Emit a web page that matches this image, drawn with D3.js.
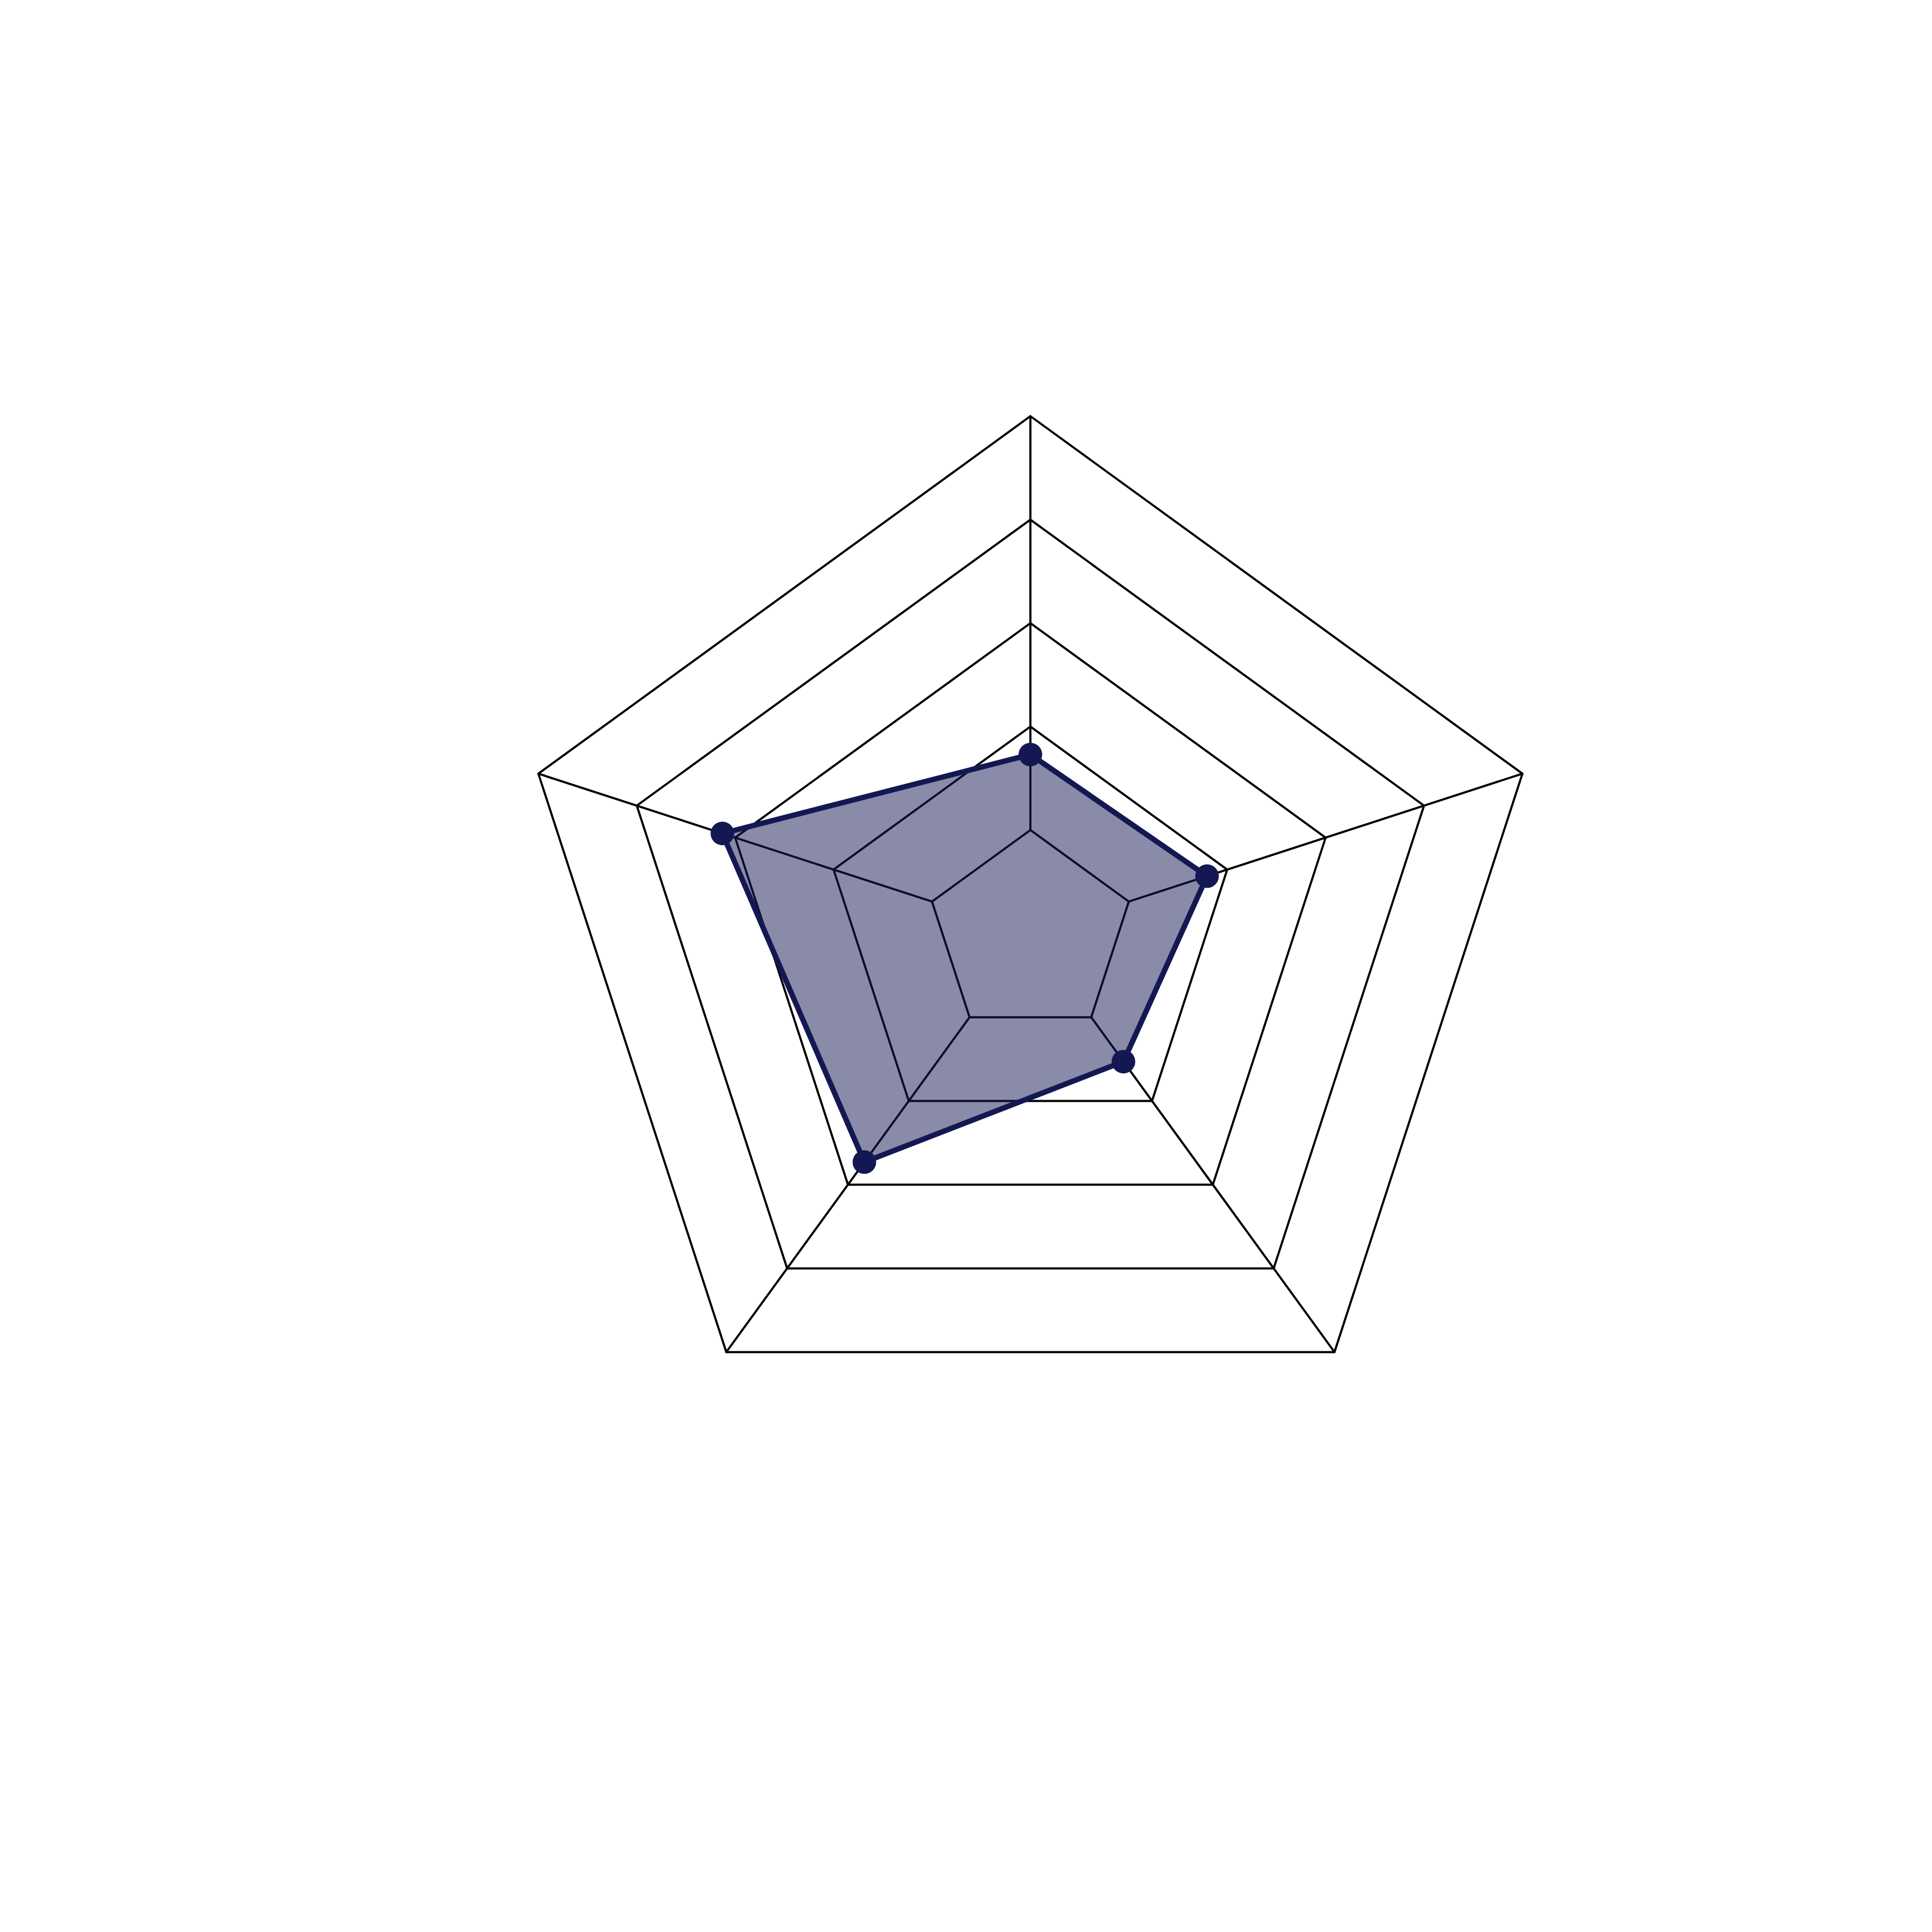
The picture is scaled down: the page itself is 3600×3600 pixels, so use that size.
<!DOCTYPE html>
<html>
<head>
<meta charset="utf-8">
<script src="https://cdn.jsdelivr.net/npm/d3@7"></script>
<style>
  html, body { margin: 0; padding: 0; background: #ffffff; }
  svg { display: block; }
</style>
</head>
<body>
<svg id="chart" width="3600" height="3600"></svg>
<script>
// Data
const axes = ["A", "B", "C", "D", "E"];
const values = [34.6, 35.9, 30.6, 54.6, 62.6];
const tickValues = [20, 40, 60, 80, 100];

const W = 3600, H = 3600;
const cx = 1920, cy = 1739.5, R = 964;

const svg = d3.select("#chart");
svg.append("rect").attr("width", W).attr("height", H).attr("fill", "#ffffff");
const g = svg.append("g").attr("transform", `translate(${cx},${cy})`);

const r = d3.scaleLinear().domain([0, 100]).range([0, R]);
const angle = d3.scaleLinear().domain([0, axes.length]).range([0, 2 * Math.PI]);

const pt = (i, v) => {
  const a = angle(i);
  return [Math.sin(a) * r(v), -Math.cos(a) * r(v)];
};

// Grid pentagons
const ring = d3.line().curve(d3.curveLinearClosed);
g.append("g").selectAll("path")
  .data(tickValues)
  .join("path")
  .attr("d", t => ring(axes.map((_, i) => pt(i, t))))
  .attr("fill", "none")
  .attr("stroke", "#000000")
  .attr("stroke-width", 4);

// Spokes (from first ring to outer ring)
g.append("g").selectAll("line")
  .data(axes)
  .join("line")
  .attr("x1", (d, i) => pt(i, tickValues[0])[0])
  .attr("y1", (d, i) => pt(i, tickValues[0])[1])
  .attr("x2", (d, i) => pt(i, tickValues[tickValues.length - 1])[0])
  .attr("y2", (d, i) => pt(i, tickValues[tickValues.length - 1])[1])
  .attr("stroke", "#000000")
  .attr("stroke-width", 4);

const color = "#141852";
const pts = values.map((v, i) => pt(i, v));

// Fill
g.append("path")
  .attr("d", ring(pts))
  .attr("fill", color)
  .attr("fill-opacity", 0.5)
  .attr("stroke", "none");

// Outline
g.append("path")
  .attr("d", ring(pts))
  .attr("fill", "none")
  .attr("stroke", color)
  .attr("stroke-width", 10)
  .attr("stroke-linejoin", "round");

// Points
g.append("g").selectAll("circle")
  .data(values)
  .join("circle")
  .attr("cx", (v, i) => pt(i, v)[0])
  .attr("cy", (v, i) => pt(i, v)[1])
  .attr("r", 22)
  .attr("fill", color);
</script>
</body>
</html>
